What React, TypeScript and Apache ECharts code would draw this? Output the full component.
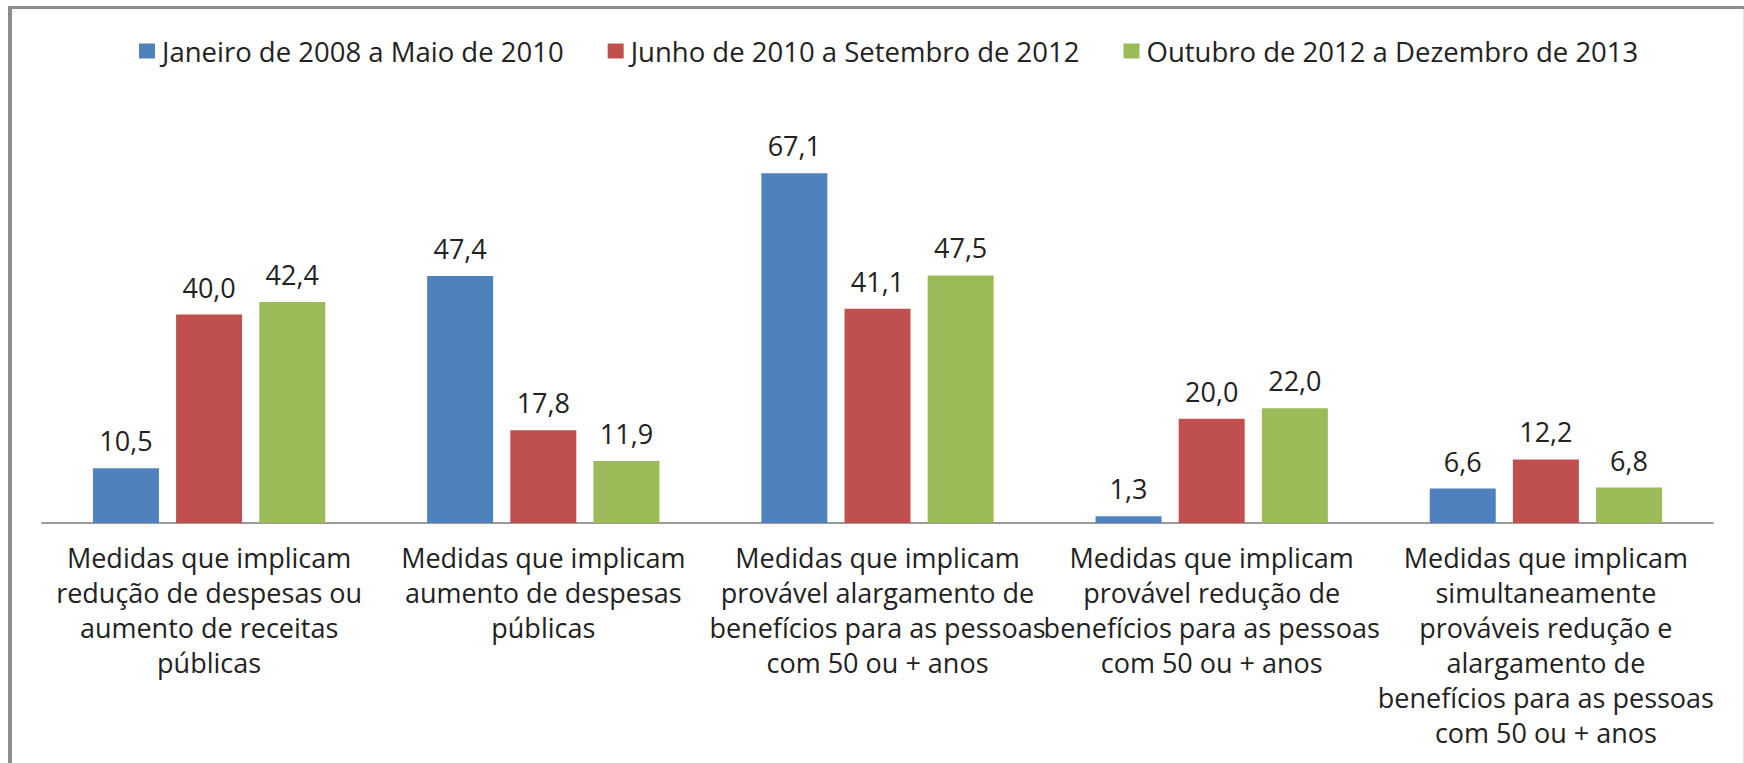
import React, { useEffect, useRef } from "react";
import * as echarts from "echarts";

const categories: string[] = [
  "Medidas que implicam\nredução de despesas ou\naumento de receitas\npúblicas",
  "Medidas que implicam\naumento de despesas\npúblicas",
  "Medidas que implicam\nprovável alargamento de\nbenefícios para as pessoas\ncom 50 ou + anos",
  "Medidas que implicam\nprovável redução de\nbenefícios para as pessoas\ncom 50 ou + anos",
  "Medidas que implicam\nsimultaneamente\nprováveis redução e\nalargamento de\nbenefícios para as pessoas\ncom 50 ou + anos",
];

const seriesNames: string[] = [
  "Janeiro de 2008 a Maio de 2010",
  "Junho de 2010 a Setembro de 2012",
  "Outubro de 2012 a Dezembro de 2013",
];

const period1: number[] = [10.5, 47.4, 67.1, 1.3, 6.6];
const period2: number[] = [40.0, 17.8, 41.1, 20.0, 12.2];
const period3: number[] = [42.4, 11.9, 47.5, 22.0, 6.8];

const colors: string[] = ["#4F81BD", "#C0504D", "#9BBB59"];

const FONT = "'Open Sans', 'Liberation Sans', sans-serif";
const TEXT_COLOR = "#222222";

export default function App() {
  const ref = useRef<HTMLDivElement>(null);

  useEffect(() => {
    if (!ref.current) return;
    const chart = echarts.init(ref.current, undefined, { renderer: "svg" });
    const values = [period1, period2, period3];
    const fmt = (p: any) => Number(p.value).toFixed(1).replace(".", ",");
    chart.setOption({
      animation: false,
      backgroundColor: "#ffffff",
      textStyle: { fontFamily: FONT },
      legend: {
        left: 139,
        top: 36,
        padding: 0,
        itemWidth: 16,
        itemHeight: 15,
        itemGap: 44,
        icon: "rect",
        textStyle: {
          fontFamily: FONT,
          fontSize: 27.5,
          color: TEXT_COLOR,
          lineHeight: 30,
          padding: [0, 0, 0, 2],
        },
        data: seriesNames,
      },
      grid: {
        left: 42,
        right: 31,
        top: 106,
        bottom: 240,
        containLabel: false,
        outerBoundsMode: "none",
      },
      xAxis: {
        type: "category",
        data: categories,
        axisLine: { show: true, lineStyle: { color: "#9a9a9a", width: 2 } },
        axisTick: { show: false },
        axisLabel: {
          interval: 0,
          fontFamily: FONT,
          fontSize: 27,
          lineHeight: 35,
          margin: 17,
          color: TEXT_COLOR,
          align: "center",
          hideOverlap: false,
        },
      },
      yAxis: {
        type: "value",
        min: 0,
        max: 80,
        show: false,
        splitLine: { show: false },
      },
      series: seriesNames.map((name, i) => ({
        name,
        type: "bar",
        data: values[i],
        barWidth: 66,
        barGap: "26%",
        itemStyle: { color: colors[i] },
        label: {
          show: true,
          position: "top",
          distance: 14,
          fontFamily: FONT,
          fontSize: 27,
          lineHeight: 27,
          color: TEXT_COLOR,
          formatter: fmt,
        },
      })),
      graphic: [
        {
          type: "line",
          shape: { x1: 8, y1: 7.5, x2: 1744, y2: 7.5 },
          style: { stroke: "#8c8c8c", lineWidth: 3 },
          silent: true,
        },
        {
          type: "line",
          shape: { x1: 10, y1: 6, x2: 10, y2: 763 },
          style: { stroke: "#8c8c8c", lineWidth: 4 },
          silent: true,
        },
        {
          type: "line",
          shape: { x1: 1743.5, y1: 9, x2: 1743.5, y2: 763 },
          style: { stroke: "#e2e2e2", lineWidth: 1 },
          silent: true,
        },
      ],
    });
    return () => chart.dispose();
  }, []);

  return (
    <div
      ref={ref}
      style={{ position: "fixed", left: 0, top: 0, width: 1744, height: 763, background: "#fff" }}
    />
  );
}
